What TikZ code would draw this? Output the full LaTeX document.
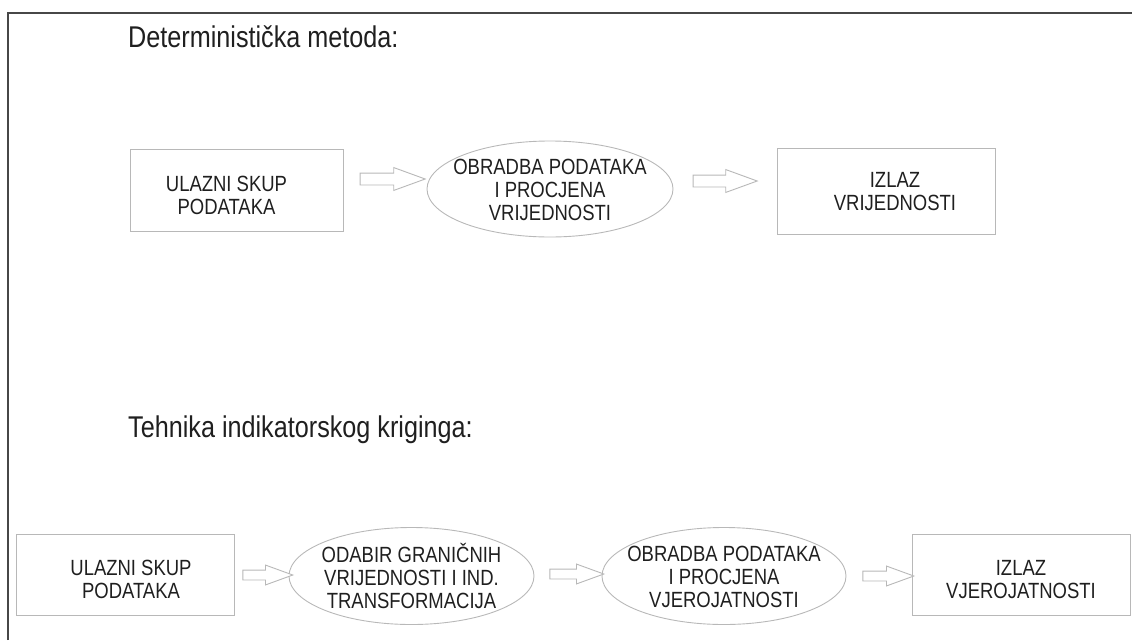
\documentclass[tikz,border=0pt]{standalone}
\usepackage{graphicx}
\usepackage{fontspec}
\setmainfont{Liberation Sans}
\usetikzlibrary{shapes.geometric,shapes.arrows}

% text of the scan is a little narrow
\newcommand\squeeze[1]{\scalebox{0.84}[1]{\begin{tabular}{@{}c@{}}#1\end{tabular}}}
\newcommand\boxfont{\fontsize{22}{23}\selectfont}
\newcommand\headfont{\fontsize{30}{36}\selectfont}

\begin{document}
\begin{tikzpicture}[x=1pt,y=-1pt]
	\tikzstyle{flowbox} = [draw=shapegray,line width=0.9pt,inner sep=0pt]
	\tikzstyle{flowoval} = [flowbox,ellipse]
	\tikzstyle{flowtext} = [text=textgray,font=\boxfont,inner sep=0pt,yshift=-3.5pt]
	\tikzstyle{flowarrow} = [draw=shapegray,fill=white,line width=0.9pt,single arrow,single arrow tip angle=40,single arrow head indent=0pt,inner xsep=0pt]
	\tikzstyle{heading} = [anchor=base west,text=textgray,font=\headfont,inner sep=0pt]

	\colorlet{shapegray}{black!28}
	\colorlet{textgray}{black!88}
	\colorlet{framegray}{black!72}
	\def\toprow{190}
	\def\botrow{575}

	\useasboundingbox (0,0) rectangle (1132,640);
	\draw[framegray,line width=2pt] (8,640) -- (8,13) -- (1132,13);

	% HEADINGS %
	\node[heading] (head1) at (128,47) {\scalebox{0.84}[1]{Deterministička metoda:}};
	\node[heading] (head2) at (128,437) {\scalebox{0.84}[1]{Tehnika indikatorskog kriginga:}};

	% NODES %
	%top row
	\node[flowbox,minimum width=213pt,minimum height=82pt] (in1) at (236.5,\toprow) {};
	\node[flowoval,minimum width=246pt,minimum height=96pt] (proc1) at (550,\toprow-1) {};
	\node[flowbox,minimum width=218pt,minimum height=86pt] (out1) at (886,\toprow+1) {};
	%bottom row
	\node[flowbox,minimum width=218pt,minimum height=81pt] (in2) at (125,\botrow) {};
	\node[flowoval,minimum width=245pt,minimum height=97pt] (sel) at (411.5,\botrow+1) {};
	\node[flowoval,minimum width=244pt,minimum height=97pt] (proc2) at (724,\botrow+1) {};
	\node[flowbox,minimum width=218pt,minimum height=81pt] (out2) at (1021,\botrow) {};

	% TEXTS %
	\node[flowtext,xshift=-10pt,yshift=-5pt] (in1t) at (in1) {\squeeze{ULAZNI SKUP\\PODATAKA}};
	\node[flowtext] (proc1t) at (proc1) {\squeeze{OBRADBA PODATAKA\\I PROCJENA\\VRIJEDNOSTI}};
	\node[flowtext,xshift=9pt] (out1t) at (out1) {\squeeze{IZLAZ\\VRIJEDNOSTI}};
	\node[flowtext,xshift=6pt,yshift=-4pt] (in2t) at (in2) {\squeeze{ULAZNI SKUP\\PODATAKA}};
	\node[flowtext] (selt) at (sel) {\squeeze{ODABIR GRANIČNIH\\VRIJEDNOSTI I IND.\\TRANSFORMACIJA}};
	\node[flowtext] (proc2t) at (proc2) {\squeeze{OBRADBA PODATAKA\\I PROCJENA\\VJEROJATNOSTI}};
	\node[flowtext,yshift=-4pt] (out2t) at (out2) {\squeeze{IZLAZ\\VJEROJATNOSTI}};

	% ARROWS %
	\node[flowarrow,inner ysep=5.5pt,single arrow head extend=5.5pt,minimum height=65pt] (a1) at (384.5,\toprow-11) {};
	\node[flowarrow,inner ysep=5.5pt,single arrow head extend=5.5pt,minimum height=64pt] (a2) at (717,\toprow-9) {};
	\node[flowarrow,inner ysep=4.5pt,single arrow head extend=5pt,minimum height=50pt] (a3) at (261,\botrow) {};
	\node[flowarrow,inner ysep=4.5pt,single arrow head extend=5pt,minimum height=54pt] (a4) at (570,\botrow-1) {};
	\node[flowarrow,inner ysep=4.5pt,single arrow head extend=5pt,minimum height=51pt] (a5) at (881.5,\botrow+1) {};
\end{tikzpicture}
\end{document}
